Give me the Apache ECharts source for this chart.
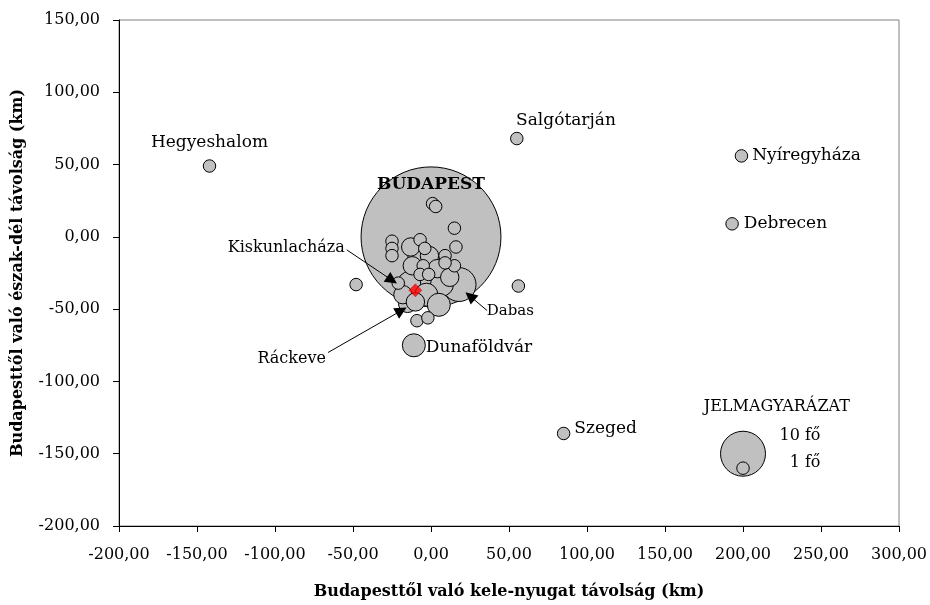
<!DOCTYPE html>
<html>
<head>
<meta charset="utf-8">
<script src="https://cdn.jsdelivr.net/npm/echarts@6/dist/echarts.min.js"></script>
<style>html,body{margin:0;padding:0;background:#fff}#c{width:930px;height:605px}</style>
</head>
<body>
<div id="c"></div>
<script>
// ---- data ----
const bubbleNames = ['BUDAPEST','Hegyeshalom','Salgótarján','Nyíregyháza','Debrecen','Szeged','Dunaföldvár',
  'p1','p2','p3','p4','p5','p6','p7','p8','p9','p10','p11','p12','p13','p14','p15','p16','p17','p18','p19','p20',
  'p21','p22','p23','p24','p25','p26','Dabas','p27','p28','p29','p30','p31','p32','p33'];
const bubbleX = [0,-142,55,199,193,85,-11,
  -25,-25,-25,-7,16,9,15,-9,-1,-12,-5,4,-7,-1.5,9,-13,7,-14,-3,-15,
  5,-9,-2,1,3,15,18,-48,56,-21,-18,-4,12,-10];
const bubbleY = [0,49,68,56,9,-136,-75,
  -3,-8,-13,-2,-7,-13,-20,-13,-13,-20,-20,-22,-26,-26,-18,-7,-33,-32,-40,-46,
  -47,-58,-56,23,21,6,-33,-33,-34,-32,-40,-8,-28,-45];
const bubbleSize = [77,1,1,1,1,1,3,
  1,1,1,1,1,1,1,2,2,2,1,2,1,1,1,2,3,3,3,2,
  3,1,1,1,1,1,6,1,1,1,2,1,2,2];

const centerX = [-10], centerY = [-37];            // red marker
const legendX = [200,200], legendY = [-150,-160], legendSize = [10,1];

const noteText = ['Kiskunlacháza','Ráckeve','Dabas','JELMAGYARÁZAT','10 fő','1 fő'];
const noteX = [-55,-67,36,222,250,250];
const noteY = [-8,-85,-52,-118,-138,-157];

const arrowFrom = [[-54,-9],[-66,-80],[36,-51]];
const arrowTo   = [[-25,-30],[-19,-51],[25,-41]];

const xMin = -200, xMax = 300, yMin = -200, yMax = 150, step = 50;

// ---- chart ----
const FONT = 'DejaVu Serif';
const fmt = v => v.toFixed(2).replace('.', ',');
const sz = v => 12.5 * Math.pow(v, 0.556);

const labelStyles = {
  'BUDAPEST':   {position:'inside', offset:[0,-52], fontWeight:'bold', fontSize:17},
  'Hegyeshalom':{position:'top', distance:8},
  'Salgótarján':{position:[6,-11], align:'left', verticalAlign:'middle'},
  'Nyíregyháza':{position:'right', distance:4},
  'Debrecen':   {position:'right', distance:5},
  'Szeged':     {position:'right', distance:4, offset:[0,-5]},
  'Dunaföldvár':{position:'right', distance:0, offset:[0,2]}
};
const noteStyles = [
  {align:'right'}, {align:'right'}, {align:'left', fontSize:15},
  {align:'center'}, {align:'right'}, {align:'right'}
];

// larger bubbles are drawn first so that small ones stay visible on top
const order = bubbleNames.map((n,i)=>i).sort((a,b)=>bubbleSize[b]-bubbleSize[a]);
const bubbleData = order.map(i => {
  const n = bubbleNames[i];
  const d = {name:n, value:[bubbleX[i], bubbleY[i], bubbleSize[i]]};
  if (labelStyles[n]) {
    d.label = Object.assign({show:true, formatter:n, color:'#000', fontFamily:FONT, fontSize:17}, labelStyles[n]);
  }
  return d;
});

const bubbleStyle = {color:'#c0c0c0', borderColor:'#000', borderWidth:1, opacity:1};

const option = {
  animation:false,
  grid:{left:119, right:29, top:20, bottom:75, show:true, borderColor:'#808080', borderWidth:1, backgroundColor:'transparent'},
  xAxis:{
    type:'value', min:xMin, max:xMax, interval:step,
    name:'Budapesttől való kele-nyugat távolság (km)', nameLocation:'middle', nameGap:58,
    nameTextStyle:{fontFamily:FONT, fontWeight:'bold', fontSize:16, color:'#000'},
    axisLine:{show:true, onZero:false, lineStyle:{color:'#000', width:1}},
    axisTick:{show:true, inside:false, length:6, lineStyle:{color:'#000'}},
    axisLabel:{formatter:fmt, fontFamily:FONT, fontSize:16, color:'#000', margin:21},
    splitLine:{show:false}
  },
  yAxis:{
    type:'value', min:yMin, max:yMax, interval:step,
    name:'Budapesttől való észak-dél távolság (km)', nameLocation:'middle', nameGap:93,
    nameTextStyle:{fontFamily:FONT, fontWeight:'bold', fontSize:16, color:'#000'},
    axisLine:{show:true, onZero:false, lineStyle:{color:'#000', width:1}},
    axisTick:{show:true, inside:false, length:6, lineStyle:{color:'#000'}},
    axisLabel:{formatter:fmt, fontFamily:FONT, fontSize:16, color:'#000', margin:19},
    splitLine:{show:false}
  },
  series:[
    {
      type:'scatter', z:2,
      data:bubbleData,
      symbolSize:v => sz(v[2]),
      itemStyle:bubbleStyle,
      emphasis:{disabled:true}
    },
    {
      type:'scatter', z:3,
      data:centerX.map((x,i)=>[x,centerY[i]]),
      symbol:'diamond', symbolSize:13,
      itemStyle:{color:'#ff0000', borderColor:'#a00000', borderWidth:0.5}
    },
    {
      type:'scatter', z:2,
      data:legendX.map((x,i)=>[x,legendY[i],legendSize[i]]),
      symbolSize:v => sz(v[2]),
      itemStyle:bubbleStyle
    },
    {
      type:'scatter', z:4,
      data:noteText.map((t,i)=>({name:t, value:[noteX[i],noteY[i]],
        label:Object.assign({show:true, formatter:t, position:[0,0], verticalAlign:'middle',
          color:'#000', opacity:1, textBorderWidth:0, fontFamily:FONT, fontSize:16}, noteStyles[i])})),
      symbol:'circle', symbolSize:1, itemStyle:{color:'rgba(0,0,0,0)'},
      markLine:{
        silent:true, animation:false,
        symbol:['none','triangle'], symbolSize:12,
        itemStyle:{color:'#000', opacity:1},
        lineStyle:{color:'#000', width:1, type:'solid', opacity:1},
        label:{show:false},
        data:arrowFrom.map((f,i)=>[{coord:f},{coord:arrowTo[i]}])
      }
    }
  ]
};
const chart = echarts.init(document.getElementById('c'), null, {renderer:'canvas'});
chart.setOption(option);
</script>
</body>
</html>
